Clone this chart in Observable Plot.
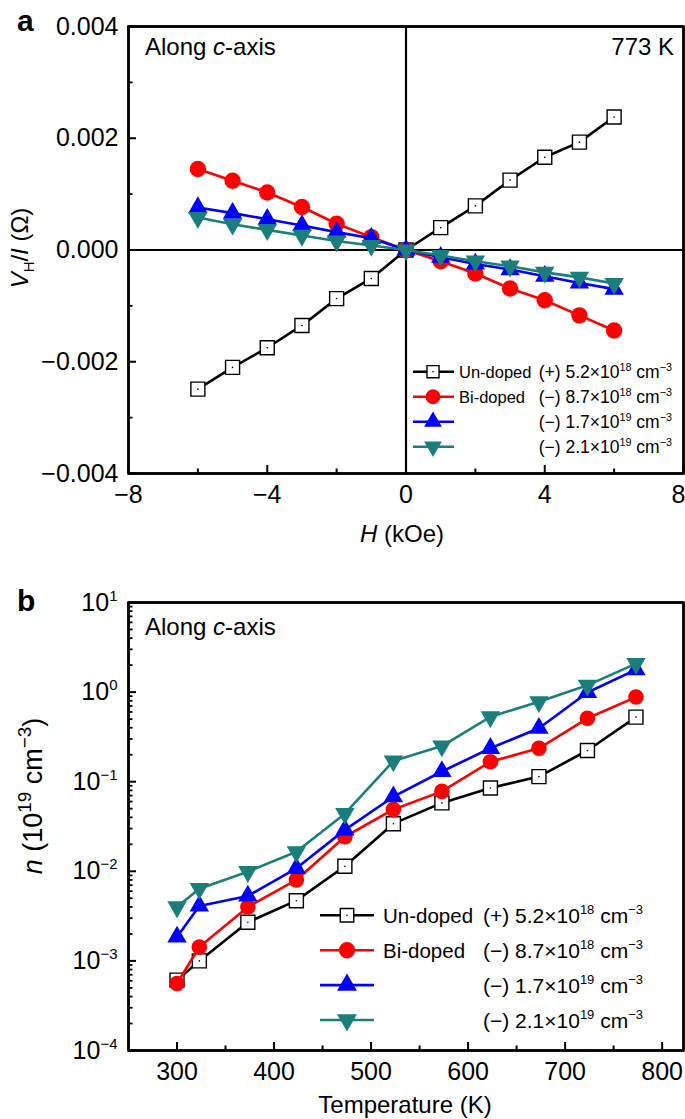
<!DOCTYPE html>
<html><head><meta charset="utf-8">
<script src="https://cdn.jsdelivr.net/npm/d3@7"></script>
<script src="https://cdn.jsdelivr.net/npm/@observablehq/plot@0.6"></script>
<style>
html,body{margin:0;padding:0;background:#fff;overflow:hidden;}
#chart svg{display:block;}
</style></head><body><div id="chart"></div>
<script>
// ---------- Panel a data ----------
const fieldH = [-6,-5,-4,-3,-2,-1,0,1,2,3,4,5,6];
const vhUndoped = [-0.00249,-0.0021,-0.00175,-0.00135,-0.00087,-0.00051,0,0.0004,0.00079,0.00125,0.00166,0.00193,0.00238];
const vhBi87 = [0.00145,0.00124,0.00103,0.00077,0.00047,0.00023,0,-0.0002,-0.00042,-0.00069,-0.0009,-0.00117,-0.00144];
const vhBi17 = [0.00076,0.00066,0.00055,0.00044,0.00032,0.00021,0,-0.00013,-0.00025,-0.00035,-0.00047,-0.00059,-0.0007];
const vhBi21 = [0.00058,0.00046,0.00036,0.00026,0.00016,0.00008,0,-0.0001,-0.0002,-0.00029,-0.0004,-0.00049,-0.0006];
const xDomainA = [-8, 8];
const yDomainA = [-0.004, 0.004];
const xTicksA = [-8,-4,0,4,8];
const xMinorA = [-6,-2,2,6];
const yTicksA = [-0.004,-0.002,0,0.002,0.004];
const yMinorA = [-0.003,-0.001,0.001,0.003];

// ---------- Panel b data ----------
const temps = [300,323,373,423,473,523,573,623,673,723,773];
const nUndoped = [6.1e-4,1.0e-3,2.7e-3,4.7e-3,1.14e-2,3.4e-2,5.8e-2,8.5e-2,0.114,0.223,0.526];
const nBi87 = [5.6e-4,1.43e-3,4.0e-3,8.0e-3,2.43e-2,4.9e-2,7.8e-2,0.167,0.236,0.51,0.88];
const nBi17 = [1.85e-3,4.1e-3,5.3e-3,1.08e-2,2.9e-2,6.8e-2,0.13,0.236,0.395,0.99,1.78];
const nBi21 = [4.0e-3,6.4e-3,9.9e-3,1.65e-2,4.4e-2,0.17,0.25,0.53,0.78,1.19,2.08];
const xDomainB = [250, 822];
const yDomainB = [1e-4, 10];
const xTicksB = [300,400,500,600,700,800];
const xMinorB = [350,450,550,650,750];
const yTicksB = [1e-4,1e-3,1e-2,1e-1,1,10];
const yMinorMult = [2,3,4,5,6,7,8,9];

// ---------- Legend / series ----------
const seriesGroup = ["Un-doped","Bi-doped","",""];
const seriesCarrier = ["(+) 5.2×10^{18} cm^{−3}","(−) 8.7×10^{18} cm^{−3}","(−) 1.7×10^{19} cm^{−3}","(−) 2.1×10^{19} cm^{−3}"];
const seriesColor = ["#000000","#ff0000","#0000ff","#1a7f7b"];

const FONT = "'Liberation Sans', Arial, Helvetica, sans-serif";
const W = 685;
const TICKFS = 25;
const ns = "http://www.w3.org/2000/svg";

const triDown = {draw(context, size) {
  const s3 = Math.sqrt(3);
  const y = -Math.sqrt(size / (s3 * 3));
  context.moveTo(0, -y * 2);
  context.lineTo(-s3 * y, y);
  context.lineTo(s3 * y, y);
  context.closePath();
}};
const seriesSymbol = ["square","circle","triangle",triDown];
const d3Sym = [d3.symbolSquare, d3.symbolCircle, d3.symbolTriangle, triDown];

function rich(el, str, base, supScale = 0.62) {
  while (el.firstChild) el.removeChild(el.firstChild);
  const parts = str.match(/\^\{[^}]*\}|_\{[^}]*\}|\*[^*]*\*|[^\^_*]+/g) || [];
  let cur = 0;
  parts.forEach(p => {
    const ts = document.createElementNS(ns, "tspan");
    let txt = p, shift = 0, fs = null, it = false;
    if (p.startsWith("^{")) { txt = p.slice(2, -1); shift = -0.40 * base; fs = supScale * base; }
    else if (p.startsWith("_{")) { txt = p.slice(2, -1); shift = 0.25 * base; fs = supScale * base; }
    else if (p.startsWith("*")) { txt = p.slice(1, -1); it = true; }
    const d = shift - cur;
    if (d !== 0) ts.setAttribute("dy", d.toFixed(2));
    cur = shift;
    if (fs) ts.setAttribute("font-size", fs.toFixed(1));
    if (it) ts.setAttribute("font-style", "italic");
    ts.textContent = txt;
    el.appendChild(ts);
  });
}

function addText(svg, str, x, y, size, opts = {}) {
  const t = document.createElementNS(ns, "text");
  t.setAttribute("x", x); t.setAttribute("y", y);
  t.setAttribute("font-size", size);
  t.setAttribute("font-family", FONT);
  t.setAttribute("fill", "#000");
  t.setAttribute("stroke", "none");
  t.setAttribute("text-anchor", opts.anchor || "start");
  if (opts.weight) t.setAttribute("font-weight", opts.weight);
  if (opts.rotate) t.setAttribute("transform", `rotate(${opts.rotate},${x},${y})`);
  svg.appendChild(t);
  rich(t, str, size, opts.supScale);
  return t;
}

// frame and inward ticks as Plot rules (data positions, pixel insets)
function frameTickMarks(xDom, yDom, xMajor, xMinor, yMajor, yMinor, plotW, plotH) {
  return [
    Plot.ruleX(xMajor, {x: d => d, y1: yDom[1], y2: yDom[0], insetTop: plotH - 8, stroke: "#000", strokeWidth: 2}),
    Plot.ruleX(xMinor, {x: d => d, y1: yDom[1], y2: yDom[0], insetTop: plotH - 4.5, stroke: "#000", strokeWidth: 2}),
    Plot.ruleY(yMajor, {y: d => d, x1: xDom[0], x2: xDom[1], insetRight: plotW - 8, stroke: "#000", strokeWidth: 2}),
    Plot.ruleY(yMinor, {y: d => d, x1: xDom[0], x2: xDom[1], insetRight: plotW - 4.5, stroke: "#000", strokeWidth: 1.8}),
    Plot.ruleX(xDom, {stroke: "#000", strokeWidth: 2.5}),
    Plot.ruleY(yDom, {stroke: "#000", strokeWidth: 2.5}),
    Plot.frame({stroke: "#000", strokeWidth: 2.5})
  ];
}

function addLegend(svg, cfg) {
  const g = d3.select(svg).append("g");
  seriesGroup.forEach((name, i) => {
    const y = cfg.y0 + i * cfg.step;
    g.append("line").attr("x1", cfg.x0).attr("x2", cfg.x1).attr("y1", y).attr("y2", y)
      .attr("stroke", seriesColor[i]).attr("stroke-width", 2.6);
    const r = cfg.r[i];
    g.append("path").attr("transform", `translate(${cfg.xm},${y})`)
      .attr("d", d3.symbol(d3Sym[i], Math.PI * r * r)())
      .attr("fill", i === 0 ? "#fff" : seriesColor[i])
      .attr("stroke", i === 0 ? "#000" : "none").attr("stroke-width", 1.4);
    if (i === 0) g.append("circle").attr("cx", cfg.xm).attr("cy", y).attr("r", 0.8).attr("fill", "#000");
    if (name) addText(svg, name, cfg.xText, y + cfg.fs * 0.36, cfg.fsName);
    addText(svg, seriesCarrier[i], cfg.xRight, y + cfg.fs * 0.36, cfg.fs, {anchor: "end"});
  });
}

function seriesMarks(xs, ys, xKey, yKey, r) {
  const marks = [];
  ys.forEach((vals, i) => {
    const rows = xs.map((x, j) => ({[xKey]: x, [yKey]: vals[j]}));
    marks.push(Plot.line(rows, {x: xKey, y: yKey, stroke: seriesColor[i], strokeWidth: 2.6}));
    marks.push(Plot.dot(rows, {x: xKey, y: yKey, symbol: seriesSymbol[i], r: r[i],
      fill: i === 0 ? "#fff" : seriesColor[i], stroke: i === 0 ? "#000" : "none", strokeWidth: 1.4}));
    if (i === 0) marks.push(Plot.dot(rows, {x: xKey, y: yKey, r: 0.8, fill: "#000"}));
  });
  return marks;
}

// ---------- Panel a ----------
const rA = [7.9, 8.2, 7.2, 7.2];
const mA = {top: 26, bottom: 87, left: 128, right: 2, h: 560};
const plotA = Plot.plot({
  width: W, height: mA.h, marginTop: mA.top, marginBottom: mA.bottom, marginLeft: mA.left, marginRight: mA.right,
  style: {fontFamily: FONT, fontSize: TICKFS + "px", color: "#000", background: "#fff"},
  x: {domain: xDomainA},
  y: {domain: yDomainA},
  marks: [
    Plot.ruleY([0], {stroke: "#000", strokeWidth: 2.2}),
    Plot.ruleX([0], {stroke: "#000", strokeWidth: 2.2}),
    ...seriesMarks(fieldH, [vhUndoped, vhBi87, vhBi17, vhBi21], "H", "V", rA),
    ...frameTickMarks(xDomainA, yDomainA, xTicksA, xMinorA, yTicksA, yMinorA,
      W - mA.left - mA.right, mA.h - mA.top - mA.bottom),
    Plot.axisX({ticks: xTicksA.slice(0, -1), tickSize: 0, tickPadding: 12, tickFormat: d3.format("d"), label: null}),
    Plot.axisX({ticks: xTicksA.slice(-1), tickSize: 0, tickPadding: 12, tickFormat: d3.format("d"), label: null, dx: -5}),
    Plot.axisY({ticks: yTicksA, tickSize: 0, tickPadding: 10, tickFormat: d3.format(".3f"), label: null})
  ]
});

// ---------- Panel b ----------
const rB = [7.9, 7.8, 7.2, 7.2];
const mB = {top: 42, bottom: 69, left: 128, right: 2, h: 559};
const supFmt = d => { const e = Math.round(Math.log10(d)); return "10^{" + (e < 0 ? "−" + (-e) : e) + "}"; };
const yMinorB = [];
yTicksB.slice(0, -1).forEach(dec => yMinorMult.forEach(m => yMinorB.push(dec * m)));
const plotB = Plot.plot({
  width: W, height: mB.h, marginTop: mB.top, marginBottom: mB.bottom, marginLeft: mB.left, marginRight: mB.right,
  style: {fontFamily: FONT, fontSize: TICKFS + "px", color: "#000", background: "#fff"},
  x: {domain: xDomainB},
  y: {type: "log", domain: yDomainB},
  marks: [
    ...seriesMarks(temps, [nUndoped, nBi87, nBi17, nBi21], "T", "n", rB),
    ...frameTickMarks(xDomainB, yDomainB, xTicksB, xMinorB, yTicksB, yMinorB,
      W - mB.left - mB.right, mB.h - mB.top - mB.bottom),
    Plot.axisX({ticks: xTicksB, tickSize: 0, tickPadding: 12, tickFormat: d3.format("d"), label: null}),
    Plot.axisY({ticks: yTicksB, tickSize: 0, tickPadding: 11, tickFormat: supFmt, label: null})
  ]
});

const chart = document.getElementById("chart");
chart.appendChild(plotA);
chart.appendChild(plotB);

// rich tick labels (superscripts)
[plotA, plotB].forEach(svg => svg.querySelectorAll("text").forEach(t => {
  const s = t.textContent;
  if (/\^\{|_\{/.test(s)) rich(t, s, TICKFS, 0.6);
}));

// ---------- Panel a annotations ----------
addText(plotA, "a", 17, 31, 30, {weight: "bold"});
addText(plotA, "Along *c*-axis", 145, 55, 24);
addText(plotA, "773 K", 674, 55, 24, {anchor: "end"});
addText(plotA, "*H* (kOe)", 402, 542, 24, {anchor: "middle"});
addText(plotA, "*V*_{H}/*I* (Ω)", 28, 248, 24, {anchor: "middle", rotate: -90});
addLegend(plotA, {x0: 413, x1: 454, xm: 433, xText: 459, xRight: 672, y0: 371.7, step: 25, fs: 17.5, fsName: 16.5, r: [6.8, 7.4, 6.6, 6.6]});

// ---------- Panel b annotations ----------
addText(plotB, "b", 17, 51, 30, {weight: "bold"});
addText(plotB, "Along *c*-axis", 145, 75, 24);
addText(plotB, "Temperature (K)", 405, 553, 24, {anchor: "middle"});
addText(plotB, "*n* (10^{19} cm^{−3})", 42, 236, 27, {anchor: "middle", rotate: -90, supScale: 0.7});
addLegend(plotB, {x0: 320, x1: 374, xm: 347, xText: 383, xRight: 643, y0: 355.3, step: 34.9, fs: 21, fsName: 20.5, r: [7.6, 8.2, 7.4, 7.4]});
</script></body></html>
